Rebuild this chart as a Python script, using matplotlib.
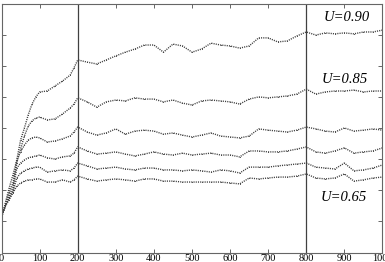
import numpy as np
import matplotlib
matplotlib.use("Agg")
import matplotlib.pyplot as plt

# time steps where the curves were read
steps = [0, 5, 10, 20, 30, 40, 50, 60, 70, 80, 90, 100, 120, 140, 160, 180, 190,
         200, 225, 250, 275, 300, 325, 350, 375, 400, 425, 450, 475, 500, 525, 550,
         575, 600, 625, 650, 675, 700, 725, 750, 775, 800, 825, 850, 875, 900, 925,
         950, 975, 1000]

u90 = [1.15, 1.34, 1.60, 2.08, 2.50, 2.98, 3.62, 4.01, 4.43, 4.78, 5.01, 5.17, 5.20,
       5.36, 5.52, 5.71, 5.94, 6.20, 6.13, 6.07, 6.20, 6.33, 6.45, 6.55, 6.68, 6.68,
       6.45, 6.71, 6.65, 6.45, 6.55, 6.74, 6.68, 6.65, 6.58, 6.65, 6.91, 6.91, 6.78,
       6.81, 6.97, 7.10, 7.00, 7.07, 7.04, 7.07, 7.04, 7.10, 7.10, 7.16]
u85 = [1.15, 1.34, 1.55, 1.95, 2.24, 2.88, 3.34, 3.75, 4.07, 4.24, 4.33, 4.36, 4.27,
       4.30, 4.46, 4.65, 4.78, 4.98, 4.85, 4.68, 4.85, 4.91, 4.88, 4.98, 4.94, 4.94,
       4.85, 4.91, 4.81, 4.75, 4.88, 4.91, 4.88, 4.85, 4.78, 4.94, 5.01, 4.98, 5.01,
       5.04, 5.10, 5.26, 5.10, 5.17, 5.20, 5.20, 5.23, 5.17, 5.20, 5.20]
u80 = [1.15, 1.34, 1.50, 1.85, 2.10, 2.98, 3.24, 3.46, 3.62, 3.69, 3.72, 3.69, 3.56,
       3.59, 3.66, 3.75, 3.88, 4.04, 3.88, 3.78, 3.85, 3.98, 3.81, 3.91, 3.94, 3.91,
       3.81, 3.85, 3.78, 3.72, 3.78, 3.85, 3.75, 3.72, 3.69, 3.75, 3.98, 3.94, 3.91,
       3.88, 3.94, 4.04, 3.98, 3.91, 3.88, 4.01, 3.91, 3.94, 3.98, 3.94]
u75 = [1.15, 1.34, 1.50, 1.80, 2.00, 2.72, 2.88, 2.98, 3.05, 3.08, 3.11, 3.14, 3.05,
       3.01, 3.08, 3.11, 3.20, 3.40, 3.27, 3.17, 3.20, 3.24, 3.17, 3.11, 3.17, 3.24,
       3.17, 3.14, 3.20, 3.14, 3.17, 3.20, 3.14, 3.14, 3.08, 3.27, 3.27, 3.24, 3.24,
       3.27, 3.33, 3.40, 3.24, 3.20, 3.27, 3.37, 3.20, 3.24, 3.27, 3.37]
u70 = [1.15, 1.34, 1.50, 1.75, 1.95, 2.40, 2.56, 2.63, 2.69, 2.72, 2.75, 2.75, 2.59,
       2.63, 2.66, 2.63, 2.72, 2.88, 2.79, 2.69, 2.72, 2.75, 2.69, 2.66, 2.72, 2.72,
       2.66, 2.66, 2.63, 2.66, 2.63, 2.59, 2.66, 2.63, 2.56, 2.75, 2.75, 2.75, 2.79,
       2.82, 2.85, 2.88, 2.75, 2.72, 2.69, 2.88, 2.63, 2.66, 2.72, 2.82]
u65 = [1.15, 1.34, 1.50, 1.70, 1.92, 2.14, 2.24, 2.30, 2.34, 2.34, 2.37, 2.37, 2.27,
       2.27, 2.34, 2.27, 2.34, 2.46, 2.37, 2.30, 2.34, 2.37, 2.34, 2.30, 2.37, 2.37,
       2.30, 2.30, 2.27, 2.27, 2.27, 2.27, 2.27, 2.24, 2.21, 2.40, 2.37, 2.40, 2.43,
       2.43, 2.46, 2.53, 2.40, 2.37, 2.40, 2.53, 2.30, 2.34, 2.40, 2.43]

labels = ["U=0.90", "U=0.85", "U=0.65"]
label_x = [967, 962, 959]
label_y = [7.55, 5.58, 1.76]
marks = [200, 800]

fig = plt.figure(figsize=(3.85, 2.62), dpi=100)
ax = fig.add_axes([0.004, 0.036, 0.9895, 0.9487])

for ys in [u90, u85, u80, u75, u70, u65]:
    ax.plot(steps, ys, linestyle=(0, (0.8, 0.8)), color='0.25', lw=1.0,
            marker='.', markersize=1.5, markeredgewidth=0)

for m in marks:
    ax.axvline(m, color='0.25', lw=0.9)

for t, lx, ly in zip(labels, label_x, label_y):
    ax.text(lx, ly, t, ha='right', va='center', fontsize=10.5,
            fontstyle='italic', family='Liberation Serif')

ax.set_xlim(0, 1000)
ax.set_ylim(0, 8)
ax.set_xticks(range(0, 1001, 100))
ax.set_yticks(range(1, 8))
ax.set_yticklabels([])
ax.tick_params(direction='in', top=True, right=True, length=3, width=0.6,
               color='0.3', pad=1, labelsize=7.5)
for lab in ax.get_xticklabels():
    lab.set_family('Liberation Serif')
for s in ax.spines.values():
    s.set_linewidth(0.8)
    s.set_color('0.4')

fig.savefig("out.png", dpi=100)
